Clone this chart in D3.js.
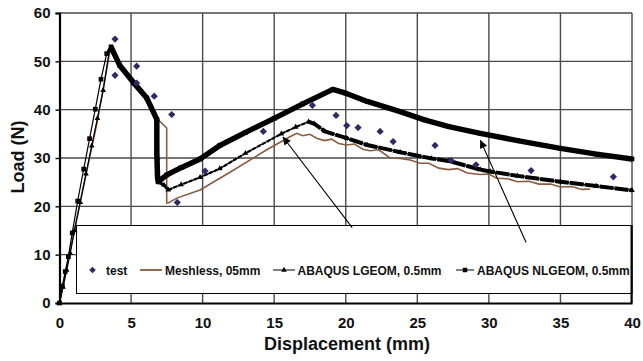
<!DOCTYPE html>
<html>
<head>
<meta charset="utf-8">
<script src="https://cdn.jsdelivr.net/npm/d3@7"></script>
<style>
  body { margin: 0; background: #fff; }
  text { font-family: "Liberation Sans", Arial, sans-serif; font-weight: bold; }
</style>
</head>
<body>
<div id="chart"></div>
<script>
// test points
const testX = [3.88, 3.88, 5.39, 5.39, 6.62, 7.84, 8.23, 10.17, 14.24, 17.67, 19.32, 20.07, 20.86, 22.4, 23.31, 26.24, 27.36, 29.1, 32.95, 38.7];
const testY = [54.6, 47.1, 49.0, 45.5, 42.8, 39.0, 20.8, 27.3, 35.5, 40.9, 38.8, 36.7, 36.3, 35.5, 33.4, 32.6, 29.5, 28.6, 27.4, 26.1];

// Meshless, 05mm
const meshX = [0, 1.38, 2.6, 3.1, 3.53, 4.2, 5.2, 6.1, 6.8, 7.49, 7.49, 7.6, 8.19, 9.82, 12, 14.48, 16.1, 16.58, 17.0, 17.5, 17.97, 18.5, 19.0, 19.5, 20.07, 20.6, 21.2, 21.7, 22.3, 23.1, 23.8, 24.5, 25.2, 25.8, 26.5, 27.17, 27.8, 28.5, 29.4, 30.0, 30.55, 31.3, 32.0, 32.8, 33.5, 34.3, 35.0, 35.8, 36.5, 37.07];
const meshY = [0, 20, 37, 45, 52.3, 49.2, 45.5, 42.4, 38.2, 36.2, 20.7, 20.7, 21.7, 23.4, 27.2, 31.7, 34.4, 35.1, 34.6, 34.9, 34.1, 33.6, 33.9, 33.0, 32.7, 32.9, 31.8, 31.5, 31.7, 30.0, 29.9, 29.6, 28.9, 28.9, 27.9, 27.6, 27.8, 26.9, 26.6, 26.7, 25.8, 25.7, 25.1, 25.2, 24.6, 24.6, 24.0, 24.1, 23.5, 23.6];

// ABAQUS LGEOM, 0.5mm
const lgX = [0, 0.25, 0.5, 0.75, 1.05, 1.45, 1.85, 2.25, 2.65, 3.05, 3.5, 4.2, 5.2, 6.1, 6.8, 6.85, 6.9, 7.3, 7.6, 8.5, 9.82, 11.2, 13, 15.5, 16.5, 17.4, 17.8, 18.55, 20.07, 21.5, 23.8, 26, 27.2, 29.4, 30.1, 32, 35, 37.5, 40];
const lgY = [0, 3.3, 6.8, 10.3, 15.0, 20.8, 26.7, 32.5, 38.2, 44.0, 52.5, 49.2, 45.5, 42.4, 38, 30, 25, 24.4, 23.4, 24.5, 26.0, 27.8, 31.0, 35.0, 36.4, 37.5, 37.1, 35.5, 34.1, 32.7, 31.2, 29.9, 29.4, 27.6, 27.2, 26.3, 25.1, 24.2, 23.3];
const lgDrop = 11, lgLow = 18, lgPeak = 25;

// ABAQUS NLGEOM, 0.5mm
const nlX = [0, 0.2, 0.4, 0.62, 0.89, 1.27, 1.69, 2.1, 2.5, 2.9, 3.3, 3.6, 4.2, 5.2, 6.1, 6.8, 6.8, 6.85, 6.9, 7.5, 8.5, 9.82, 11.2, 13, 15, 17, 19.1, 20, 21.5, 23.8, 25.5, 27.2, 29.4, 32, 35, 37.5, 40];
const nlY = [0, 3.5, 6.5, 9.6, 14.5, 21.1, 27.7, 34, 40.1, 46.3, 51.6, 53, 49.2, 45.5, 42.4, 38, 31, 26, 25.1, 26.5, 28, 29.8, 32.6, 35.3, 38.2, 41.2, 44.2, 43.4, 41.7, 39.6, 37.9, 36.5, 35.1, 33.6, 32.0, 30.8, 29.8];
const nlPeak = 11;

// arrows [x1, y1, x2, y2] tail -> head
const arrows = [[20.45, 15.6, 15.6, 34.4], [32.6, 12.5, 29.4, 33.7]];

const xTicks = [0, 5, 10, 15, 20, 25, 30, 35, 40];
const yTicks = [0, 10, 20, 30, 40, 50, 60];

const width = 643, height = 361;
const margin = { top: 13, right: 11, bottom: 58, left: 59.5 };

const x = d3.scaleLinear().domain([0, 40]).range([margin.left, width - margin.right]);
const y = d3.scaleLinear().domain([0, 60]).range([height - margin.bottom, margin.top]);

const svg = d3.select('#chart').append('svg')
  .attr('width', width)
  .attr('height', height);

svg.append('defs').append('marker')
  .attr('id', 'arrow')
  .attr('viewBox', '0 0 10 10')
  .attr('refX', 10).attr('refY', 5)
  .attr('markerWidth', 10).attr('markerHeight', 8)
  .attr('markerUnits', 'userSpaceOnUse')
  .attr('orient', 'auto')
  .append('path')
  .attr('d', 'M0,0L10,5L0,10Z')
  .attr('fill', '#000');

// grid
const grid = svg.append('g');
grid.selectAll('.vg').data(xTicks.slice(1)).enter().append('line')
  .attr('x1', d => x(d)).attr('x2', d => x(d))
  .attr('y1', y(0)).attr('y2', y(60))
  .attr('stroke', '#4a4a4a').attr('stroke-width', 1.4);
grid.selectAll('.hg').data(yTicks.slice(1)).enter().append('line')
  .attr('x1', x(0)).attr('x2', x(40))
  .attr('y1', d => y(d)).attr('y2', d => y(d))
  .attr('stroke', '#4a4a4a').attr('stroke-width', 1.4);

// legend box (white, hides the grid)
const lg = svg.append('g');
lg.append('rect')
  .attr('x', 76.5).attr('y', 225.5)
  .attr('width', x(40) - 76.5).attr('height', 68)
  .attr('fill', '#fff').attr('stroke', '#000').attr('stroke-width', 1);
lg.append('line')
  .attr('x1', x(40) - 0.5).attr('x2', x(40) - 0.5)
  .attr('y1', 225).attr('y2', y(0))
  .attr('stroke', '#000').attr('stroke-width', 2);

// axes
const xAxis = svg.append('g')
  .attr('transform', `translate(0,${y(0)})`)
  .call(d3.axisBottom(x).tickValues(xTicks).tickSize(0).tickPadding(14));
xAxis.select('.domain').attr('stroke', '#000').attr('stroke-width', 2.2);
xAxis.selectAll('text').style('font-size', '15px').attr('fill', '#111');

const yAxis = svg.append('g')
  .attr('transform', `translate(${x(0)},0)`)
  .call(d3.axisLeft(y).tickValues(yTicks).tickSize(4).tickPadding(5));
yAxis.select('.domain').attr('stroke', '#000').attr('stroke-width', 2.2);
yAxis.selectAll('.tick line').attr('stroke', '#000').attr('stroke-width', 1.4);
yAxis.selectAll('text').style('font-size', '15px').attr('fill', '#111');

svg.append('text')
  .attr('x', 347).attr('y', 350)
  .attr('text-anchor', 'middle')
  .style('font-size', '18px').attr('fill', '#111')
  .text('Displacement (mm)');
svg.append('text')
  .attr('transform', 'translate(24,157) rotate(-90)')
  .attr('text-anchor', 'middle')
  .style('font-size', '18px').attr('fill', '#111')
  .text('Load (N)');

const zip = (xs, ys) => xs.map((v, i) => [v, ys[i]]);
const line = d3.line().x(d => x(d[0])).y(d => y(d[1]));

const plot = svg.append('g');

// Meshless
plot.append('path')
  .datum(zip(meshX, meshY))
  .attr('d', line)
  .attr('fill', 'none').attr('stroke', '#8a5a3e').attr('stroke-width', 1.6);

// LGEOM
const lgPts = zip(lgX, lgY);
plot.append('path').datum(lgPts).attr('d', line)
  .attr('fill', 'none').attr('stroke', '#000').attr('stroke-width', 1.2);
plot.append('path').datum(lgPts.slice(lgDrop, lgLow + 1)).attr('d', line)
  .attr('fill', 'none').attr('stroke', '#000').attr('stroke-width', 3);
plot.append('path').datum(lgPts.slice(lgLow, lgPeak + 1)).attr('d', line)
  .attr('fill', 'none').attr('stroke', '#000').attr('stroke-width', 2.2).attr('stroke-dasharray', '4,1.5');
plot.append('path').datum(lgPts.slice(lgPeak)).attr('d', line)
  .attr('fill', 'none').attr('stroke', '#000').attr('stroke-width', 4).attr('stroke-dasharray', '14,1');
plot.selectAll('.tri').data(lgPts).enter().append('path')
  .attr('d', d3.symbol(d3.symbolTriangle, 14))
  .attr('transform', d => `translate(${x(d[0])},${y(d[1])})`)
  .attr('fill', '#000');

// NLGEOM
const nlPts = zip(nlX, nlY);
plot.append('path').datum(nlPts).attr('d', line)
  .attr('fill', 'none').attr('stroke', '#000').attr('stroke-width', 1.2);
plot.append('path').datum(nlPts.slice(nlPeak)).attr('d', line)
  .attr('fill', 'none').attr('stroke', '#000').attr('stroke-width', 5.5)
  .attr('stroke-linejoin', 'round');
plot.selectAll('.sq').data(nlPts).enter().append('path')
  .attr('d', d3.symbol(d3.symbolSquare, 22))
  .attr('transform', d => `translate(${x(d[0])},${y(d[1])})`)
  .attr('fill', '#000');

// test
plot.selectAll('.dia').data(zip(testX, testY)).enter().append('path')
  .attr('d', d3.symbol(d3.symbolSquare, 26))
  .attr('transform', d => `translate(${x(d[0])},${y(d[1])}) rotate(45)`)
  .attr('fill', '#2d2a64');

// arrows
svg.selectAll('.arr').data(arrows).enter().append('line')
  .attr('x1', d => x(d[0])).attr('y1', d => y(d[1]))
  .attr('x2', d => x(d[2])).attr('y2', d => y(d[3]))
  .attr('stroke', '#000').attr('stroke-width', 1.1)
  .attr('marker-end', 'url(#arrow)');

// legend entries
const ly = 270;
lg.append('path')
  .attr('d', d3.symbol(d3.symbolSquare, 22))
  .attr('transform', `translate(92.5,${ly}) rotate(45)`)
  .attr('fill', '#2d2a64');
lg.append('text').attr('x', 106).attr('y', ly + 4.5).style('font-size', '12px').attr('fill', '#111').text('test');
lg.append('line').attr('x1', 140).attr('x2', 162).attr('y1', ly).attr('y2', ly)
  .attr('stroke', '#8a5a3e').attr('stroke-width', 1.8);
lg.append('text').attr('x', 165).attr('y', ly + 4.5).style('font-size', '12px').attr('fill', '#111').text('Meshless, 05mm');
lg.append('line').attr('x1', 273).attr('x2', 295).attr('y1', ly).attr('y2', ly)
  .attr('stroke', '#000').attr('stroke-width', 1);
lg.append('path').attr('d', d3.symbol(d3.symbolTriangle, 14))
  .attr('transform', `translate(284,${ly})`).attr('fill', '#000');
lg.append('text').attr('x', 297.5).attr('y', ly + 4.5).style('font-size', '12px').attr('fill', '#111').text('ABAQUS LGEOM, 0.5mm');
lg.append('line').attr('x1', 456).attr('x2', 474).attr('y1', ly).attr('y2', ly)
  .attr('stroke', '#000').attr('stroke-width', 1);
lg.append('path').attr('d', d3.symbol(d3.symbolSquare, 20))
  .attr('transform', `translate(465,${ly})`).attr('fill', '#000');
lg.append('text').attr('x', 477).attr('y', ly + 4.5).style('font-size', '12px').attr('fill', '#111').text('ABAQUS NLGEOM, 0.5mm');
</script>
</body>
</html>
